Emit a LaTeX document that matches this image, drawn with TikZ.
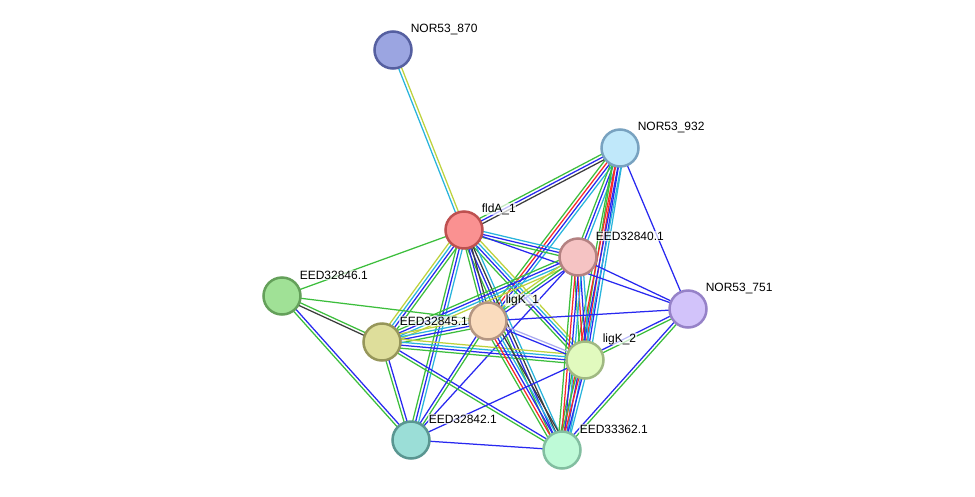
\documentclass[tikz,border=0pt]{standalone}
\usepackage{fontspec}
\setmainfont{Liberation Sans}
\usetikzlibrary{calc}
\definecolor{sg}{RGB}{60,190,60}
\definecolor{sr}{RGB}{250,40,40}
\definecolor{sb}{RGB}{40,40,240}
\definecolor{sc}{RGB}{40,180,220}
\definecolor{sy}{RGB}{190,210,60}
\definecolor{sk}{RGB}{60,60,60}
\definecolor{sp}{RGB}{170,170,240}
\pgfdeclarelayer{background}
\pgfsetlayers{background,main}
\newcommand\linkedge[3]{%
  \gdef\nlist{0}%
  \foreach \c in {#3}{\pgfmathtruncatemacro\tmpn{\nlist+1}\xdef\nlist{\tmpn}}%
  \foreach \c [count=\i] in {#3}{%
    \pgfmathsetmacro\off{(\i-(\nlist+1)/2)*3}%
    \draw[\c,line width=1.25pt] ($(#1.center)!\off pt!90:(#2.center)$) -- ($(#2.center)!\off pt!-90:(#1.center)$);
  }}
\begin{document}
\begin{tikzpicture}[x=1pt,y=-1pt,
  prot/.style={circle,minimum size=37pt,inner sep=0pt,line width=2.5pt},
  lab/.style={anchor=west,font=\fontsize{12}{14}\selectfont,fill=white,fill opacity=0.7,text opacity=1,inner sep=0.6pt}]
\useasboundingbox (0,0) rectangle (975,496);
\node[prot,fill={rgb,255:red,155;green,165;blue,225},draw={rgb,255:red,85;green,95;blue,160}] (n870) at (393,50) {};
\node[prot,fill={rgb,255:red,192;green,232;blue,250},draw={rgb,255:red,120;green,162;blue,192}] (n932) at (620,148) {};
\node[prot,fill={rgb,255:red,250;green,145;blue,145},draw={rgb,255:red,190;green,80;blue,80}] (fldA) at (464,230) {};
\node[prot,fill={rgb,255:red,245;green,195;blue,195},draw={rgb,255:red,180;green,130;blue,130}] (e840) at (578,257) {};
\node[prot,fill={rgb,255:red,160;green,225;blue,150},draw={rgb,255:red,100;green,160;blue,90}] (e846) at (282,296) {};
\node[prot,fill={rgb,255:red,210;green,195;blue,250},draw={rgb,255:red,150;green,130;blue,200}] (n751) at (688,309) {};
\node[prot,fill={rgb,255:red,250;green,220;blue,190},draw={rgb,255:red,180;green,150;blue,130}] (ligK1) at (488,321) {};
\node[prot,fill={rgb,255:red,222;green,222;blue,155},draw={rgb,255:red,150;green,150;blue,90}] (e845) at (382,342) {};
\node[prot,fill={rgb,255:red,225;green,250;blue,190},draw={rgb,255:red,160;green,185;blue,130}] (ligK2) at (585,360) {};
\node[prot,fill={rgb,255:red,155;green,222;blue,215},draw={rgb,255:red,90;green,150;blue,145}] (e842) at (411,440) {};
\node[prot,fill={rgb,255:red,190;green,250;blue,215},draw={rgb,255:red,130;green,190;blue,160}] (e362) at (562,450) {};
\node[lab] (l870) at (410,29) {NOR53\_870};
\node[lab] (l932) at (637,127) {NOR53\_932};
\node[lab] (lfldA) at (481,209) {fldA\_1};
\node[lab] (l840) at (595,236) {EED32840.1};
\node[lab] (l846) at (299,275) {EED32846.1};
\node[lab] (l751) at (705,288) {NOR53\_751};
\node[lab] (lligK1) at (505,300) {ligK\_1};
\node[lab] (l845) at (399,321) {EED32845.1};
\node[lab] (lligK2) at (602,339) {ligK\_2};
\node[lab] (l842) at (428,419) {EED32842.1};
\node[lab] (l362) at (579,429) {EED33362.1};
\begin{pgfonlayer}{background}
\fill[white] (0,0) rectangle (975,496);
\linkedge{n870}{fldA}{sc,sy}
\linkedge{n932}{fldA}{sg,sb,sk}
\linkedge{n932}{ligK1}{sg,sr,sb,sc}
\linkedge{n932}{e840}{sg,sb,sc}
\linkedge{n932}{ligK2}{sg,sr,sb,sc}
\linkedge{n932}{e362}{sg,sr,sb,sc}
\linkedge{n932}{n751}{sb}
\linkedge{fldA}{e846}{sg}
\linkedge{fldA}{e840}{sg,sb,sc}
\linkedge{fldA}{ligK2}{sg,sb,sc,sy}
\linkedge{fldA}{n751}{sb}
\linkedge{fldA}{e845}{sy,sc,sb,sg}
\linkedge{fldA}{e842}{sg,sb,sc}
\linkedge{fldA}{e362}{sg,sb,sk,sc}
\linkedge{fldA}{ligK1}{sg,sb,sk}
\linkedge{e840}{e845}{sg,sb,sc,sy}
\linkedge{e840}{ligK1}{sy,sg,sb}
\linkedge{e840}{ligK2}{sg,sr,sb,sc}
\linkedge{e840}{e362}{sg,sr,sb,sc}
\linkedge{e840}{e842}{sb}
\linkedge{e840}{n751}{sb}
\linkedge{e846}{e845}{sk,sg}
\linkedge{e846}{ligK1}{sg}
\linkedge{e846}{e842}{sg,sb}
\linkedge{e845}{ligK1}{sg,sb,sc,sy}
\linkedge{e845}{ligK2}{sg,sb,sc,sy}
\linkedge{e845}{e842}{sg,sb}
\linkedge{e845}{e362}{sg,sb}
\linkedge{ligK1}{ligK2}{sb,sp}
\linkedge{ligK1}{n751}{sb}
\linkedge{ligK1}{e362}{sg,sr,sb,sc,sk}
\linkedge{ligK1}{e842}{sb,sg}
\linkedge{ligK2}{e362}{sg,sr,sb,sc}
\linkedge{ligK2}{n751}{sg,sb}
\linkedge{ligK2}{e842}{sb}
\linkedge{n751}{e362}{sb,sg}
\linkedge{e842}{e362}{sb}
\end{pgfonlayer}
\end{tikzpicture}
\end{document}
